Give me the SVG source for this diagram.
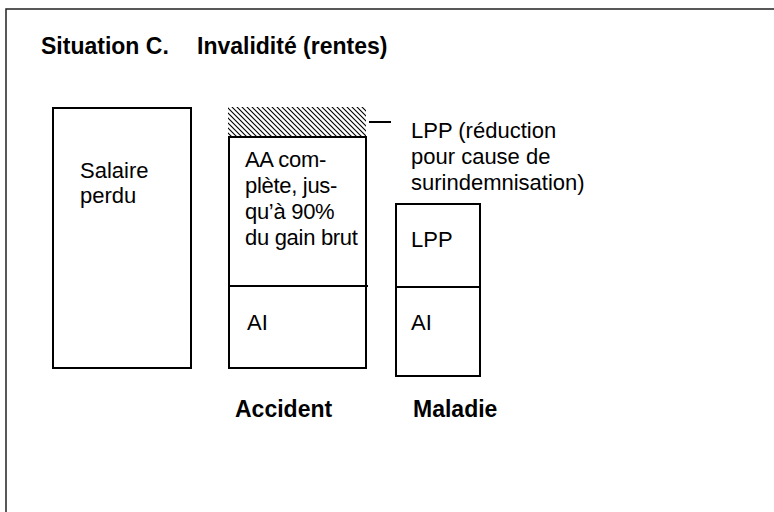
<svg xmlns="http://www.w3.org/2000/svg" width="774" height="512" viewBox="0 0 774 512">
<defs>
<style>
.t{font-family:"Liberation Sans",Arial,sans-serif;font-size:22px;fill:#000}
.b{font-weight:bold;font-size:23px}
.box{fill:#fff;stroke:#000;stroke-width:2}
.ln{stroke:#000;stroke-width:2;fill:none}
</style>
<pattern id="hatch" patternUnits="userSpaceOnUse" width="5" height="5">
<rect width="5" height="5" fill="#fff"/>
<path d="M0,0 L5,5 M-1,4 L1,6 M4,-1 L6,1" stroke="#000" stroke-width="1.1"/>
</pattern>
</defs>
<rect width="774" height="512" fill="#fff"/>
<path d="M6,520 L6,9 L780,9" fill="none" stroke="#222" stroke-width="1.5"/>
<text class="t b" x="41" y="54">Situation C.</text>
<text class="t b" x="197" y="54">Invalidité (rentes)</text>
<g id="salaire">
<rect class="box" x="53" y="108" width="138" height="260"/>
<text class="t" x="80" y="178">Salaire</text>
<text class="t" x="80" y="203">perdu</text>
</g>
<g id="accident">
<rect x="228" y="107" width="138" height="30" fill="url(#hatch)"/>
<rect class="box" x="229" y="137" width="137" height="231"/>
<line class="ln" x1="229" y1="286" x2="368" y2="286"/>
<text class="t" x="245" y="167" letter-spacing="-0.3">AA com-</text>
<text class="t" x="245" y="193" letter-spacing="-0.3">plète, jus-</text>
<text class="t" x="245" y="219" letter-spacing="-0.3">qu’à 90%</text>
<text class="t" x="245" y="245" letter-spacing="-0.3">du gain brut</text>
<text class="t" x="247" y="330">AI</text>
<text class="t b" x="235" y="417">Accident</text>
</g>
<g id="maladie">
<rect class="box" x="396" y="204" width="84" height="172"/>
<line class="ln" x1="396" y1="287" x2="480" y2="287"/>
<text class="t" x="411" y="247">LPP</text>
<text class="t" x="411" y="330">AI</text>
<text class="t b" x="413" y="417">Maladie</text>
</g>
<g id="lpp-label">
<text class="t" x="411" y="138">LPP (réduction</text>
<text class="t" x="411" y="164">pour cause de</text>
<text class="t" x="411" y="190">surindemnisation)</text>
</g>
<g id="connectors">
<line class="ln" x1="369" y1="122" x2="391" y2="122" stroke-width="1.5"/>
</g>
</svg>
